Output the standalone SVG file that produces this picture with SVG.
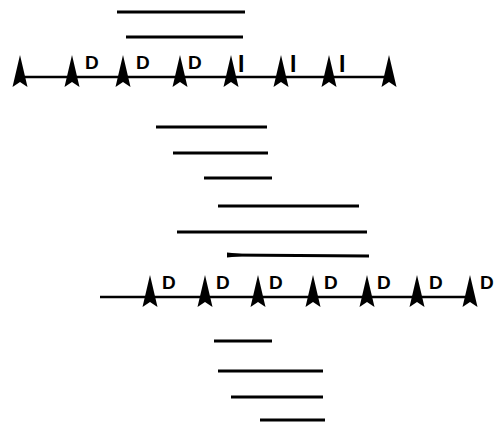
<svg xmlns="http://www.w3.org/2000/svg" width="495" height="422" viewBox="0 0 495 422">
<style>
.ln{stroke:#000;stroke-width:2.8;fill:none;stroke-linecap:butt}
.ax{stroke:#000;stroke-width:2.5;fill:none}
.lb{font-family:"Liberation Sans",Arial,sans-serif;font-size:19px;font-weight:bold;fill:#000}
.li{font-family:"Liberation Sans",Arial,sans-serif;font-size:23px;font-weight:bold;fill:#000}
</style>
<defs>
<path id="ar" d="M0,-22 L7.5,10 L0,5 L-7.5,10 Z" fill="#000"/>
</defs>
<rect width="495" height="422" fill="#fff"/>
<g id="segments">
<line class="ln" x1="117" y1="12" x2="245" y2="12"/>
<line class="ln" x1="126" y1="37" x2="243" y2="37"/>
<line class="ln" x1="156" y1="127" x2="267" y2="127"/>
<line class="ln" x1="173" y1="153" x2="268" y2="153"/>
<line class="ln" x1="204" y1="178" x2="272" y2="178"/>
<line class="ln" x1="218" y1="206" x2="359" y2="206"/>
<line class="ln" x1="177" y1="232" x2="367" y2="232"/>
<line class="ln" x1="227" y1="255" x2="369" y2="256"/>
<path d="M227,252.5 L252,255 L227,257.5 Z" fill="#000"/>
<line class="ln" x1="214" y1="341" x2="272" y2="341"/>
<line class="ln" x1="218" y1="371" x2="323" y2="371"/>
<line class="ln" x1="231" y1="397" x2="323" y2="397"/>
<line class="ln" x1="260" y1="420" x2="325" y2="420"/>
</g>
<g id="top-axis">
<line class="ax" x1="20" y1="77" x2="390" y2="77"/>
<use href="#ar" x="20" y="77"/>
<use href="#ar" x="72" y="77"/>
<use href="#ar" x="123" y="77"/>
<use href="#ar" x="180" y="77"/>
<use href="#ar" x="231" y="77"/>
<use href="#ar" x="281" y="77"/>
<use href="#ar" x="329" y="77"/>
<use href="#ar" x="389" y="77"/>
<text class="lb" x="85" y="69">D</text>
<text class="lb" x="136" y="69">D</text>
<text class="lb" x="188" y="69">D</text>
<text class="li" x="238" y="72">I</text>
<text class="li" x="290" y="72">I</text>
<text class="li" x="339" y="72">I</text>
</g>
<g id="bottom-axis">
<line class="ax" x1="100" y1="297" x2="474" y2="297"/>
<use href="#ar" x="150" y="297"/>
<use href="#ar" x="205" y="297"/>
<use href="#ar" x="258" y="297"/>
<use href="#ar" x="313" y="297"/>
<use href="#ar" x="367" y="297"/>
<use href="#ar" x="417" y="297"/>
<use href="#ar" x="470" y="297"/>
<text class="lb" x="162" y="289">D</text>
<text class="lb" x="216" y="289">D</text>
<text class="lb" x="269" y="289">D</text>
<text class="lb" x="324" y="289">D</text>
<text class="lb" x="377" y="289">D</text>
<text class="lb" x="429" y="289">D</text>
<text class="lb" x="480" y="289">D</text>
</g>
</svg>
